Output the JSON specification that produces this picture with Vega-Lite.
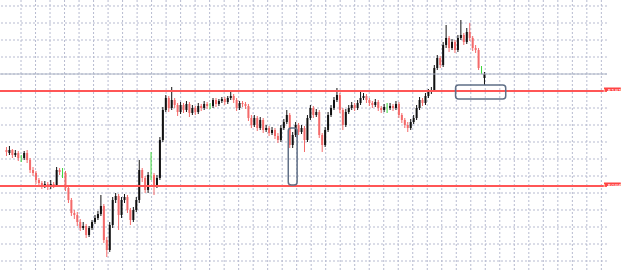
{
"$schema": "https://vega.github.io/schema/vega-lite/v6.json",
"autosize": {"type": "none"},
"width": 607,
"height": 272,
"padding": {"left": 0, "top": 0, "right": 18, "bottom": 0},
"background": "#ffffff",
"config": {"view": {"stroke": null}},
"datasets": {
"gridx": [{"t":4.93},{"t":9.85},{"t":14.76},{"t":19.68},{"t":24.6},{"t":29.52},{"t":34.43},{"t":39.35},{"t":44.27},{"t":49.18},{"t":54.1},{"t":59.02},{"t":63.93},{"t":68.85},{"t":73.77},{"t":78.69},{"t":83.6},{"t":88.52},{"t":93.44},{"t":98.35},{"t":103.27},{"t":108.19},{"t":113.1},{"t":118.02},{"t":122.94},{"t":127.86},{"t":132.77},{"t":137.69},{"t":142.61},{"t":147.52},{"t":152.44},{"t":157.36},{"t":162.27},{"t":167.19},{"t":172.11},{"t":177.03},{"t":181.94},{"t":186.86},{"t":191.78},{"t":196.69},{"t":201.61}],
"gridy": [{"p":1.5266},{"p":1.5249},{"p":1.5232},{"p":1.5215},{"p":1.5198},{"p":1.5181},{"p":1.5164},{"p":1.5147},{"p":1.5130},{"p":1.5113},{"p":1.5096},{"p":1.5079},{"p":1.5062},{"p":1.5045},{"p":1.5028},{"p":1.5011}]
},
"data": {"values": [
{"t":0,"o":1.5122,"h":1.5125,"l":1.5116,"c":1.5120},
{"t":1,"o":1.5119,"h":1.5126,"l":1.5117,"c":1.5122},
{"t":2,"o":1.5122,"h":1.5123,"l":1.5114,"c":1.5117},
{"t":3,"o":1.5117,"h":1.5122,"l":1.5115,"c":1.5119},
{"t":4,"o":1.5119,"h":1.5121,"l":1.5111,"c":1.5114},
{"t":5,"o":1.5114,"h":1.5117,"l":1.5110,"c":1.5114},
{"t":6,"o":1.5114,"h":1.5121,"l":1.5112,"c":1.5119},
{"t":7,"o":1.5119,"h":1.5122,"l":1.5109,"c":1.5112},
{"t":8,"o":1.5112,"h":1.5114,"l":1.5099,"c":1.5102},
{"t":9,"o":1.5102,"h":1.5105,"l":1.5096,"c":1.5099},
{"t":10,"o":1.5099,"h":1.5101,"l":1.5088,"c":1.5092},
{"t":11,"o":1.5092,"h":1.5094,"l":1.5085,"c":1.5089},
{"t":12,"o":1.5089,"h":1.5091,"l":1.5083,"c":1.5086},
{"t":13,"o":1.5086,"h":1.5091,"l":1.5084,"c":1.5088},
{"t":14,"o":1.5088,"h":1.5090,"l":1.5082,"c":1.5085},
{"t":15,"o":1.5085,"h":1.5092,"l":1.5083,"c":1.5088},
{"t":16,"o":1.5088,"h":1.5090,"l":1.5084,"c":1.5087},
{"t":17,"o":1.5087,"h":1.5105,"l":1.5085,"c":1.5102},
{"t":18,"o":1.5102,"h":1.5104,"l":1.5097,"c":1.5100},
{"t":19,"o":1.5099,"h":1.5104,"l":1.5094,"c":1.5099},
{"t":20,"o":1.5099,"h":1.5101,"l":1.5081,"c":1.5084},
{"t":21,"o":1.5084,"h":1.5086,"l":1.5069,"c":1.5072},
{"t":22,"o":1.5072,"h":1.5074,"l":1.5056,"c":1.5059},
{"t":23,"o":1.5059,"h":1.5062,"l":1.5053,"c":1.5057},
{"t":24,"o":1.5057,"h":1.5060,"l":1.5046,"c":1.5050},
{"t":25,"o":1.5050,"h":1.5053,"l":1.5041,"c":1.5044},
{"t":26,"o":1.5044,"h":1.5050,"l":1.5042,"c":1.5046},
{"t":27,"o":1.5046,"h":1.5048,"l":1.5034,"c":1.5037},
{"t":28,"o":1.5037,"h":1.5046,"l":1.5035,"c":1.5044},
{"t":29,"o":1.5044,"h":1.5052,"l":1.5042,"c":1.5050},
{"t":30,"o":1.5050,"h":1.5057,"l":1.5048,"c":1.5054},
{"t":31,"o":1.5054,"h":1.5061,"l":1.5052,"c":1.5058},
{"t":32,"o":1.5058,"h":1.5077,"l":1.5056,"c":1.5066},
{"t":33,"o":1.5066,"h":1.5068,"l":1.5029,"c":1.5032},
{"t":34,"o":1.5032,"h":1.5035,"l":1.5015,"c":1.5022},
{"t":35,"o":1.5022,"h":1.5050,"l":1.5020,"c":1.5047},
{"t":36,"o":1.5047,"h":1.5075,"l":1.5044,"c":1.5072},
{"t":37,"o":1.5072,"h":1.5079,"l":1.5069,"c":1.5076},
{"t":38,"o":1.5076,"h":1.5078,"l":1.5042,"c":1.5057},
{"t":39,"o":1.5057,"h":1.5075,"l":1.5054,"c":1.5072},
{"t":40,"o":1.5072,"h":1.5078,"l":1.5069,"c":1.5075},
{"t":41,"o":1.5075,"h":1.5077,"l":1.5059,"c":1.5062},
{"t":42,"o":1.5062,"h":1.5064,"l":1.5047,"c":1.5052},
{"t":43,"o":1.5052,"h":1.5065,"l":1.5050,"c":1.5062},
{"t":44,"o":1.5062,"h":1.5075,"l":1.5060,"c":1.5072},
{"t":45,"o":1.5072,"h":1.5112,"l":1.5069,"c":1.5102},
{"t":46,"o":1.5102,"h":1.5104,"l":1.5090,"c":1.5094},
{"t":47,"o":1.5094,"h":1.5096,"l":1.5079,"c":1.5082},
{"t":48,"o":1.5082,"h":1.5100,"l":1.5079,"c":1.5097},
{"t":49,"o":1.5097,"h":1.5120,"l":1.5092,"c":1.5097},
{"t":50,"o":1.5097,"h":1.5099,"l":1.5077,"c":1.5087},
{"t":51,"o":1.5087,"h":1.5097,"l":1.5084,"c":1.5094},
{"t":52,"o":1.5094,"h":1.5135,"l":1.5092,"c":1.5132},
{"t":53,"o":1.5132,"h":1.5165,"l":1.5130,"c":1.5162},
{"t":54,"o":1.5162,"h":1.5177,"l":1.5160,"c":1.5174},
{"t":55,"o":1.5174,"h":1.5176,"l":1.5160,"c":1.5164},
{"t":56,"o":1.5164,"h":1.5185,"l":1.5162,"c":1.5172},
{"t":57,"o":1.5172,"h":1.5174,"l":1.5164,"c":1.5167},
{"t":58,"o":1.5167,"h":1.5169,"l":1.5156,"c":1.5160},
{"t":59,"o":1.5160,"h":1.5170,"l":1.5158,"c":1.5167},
{"t":60,"o":1.5167,"h":1.5169,"l":1.5159,"c":1.5162},
{"t":61,"o":1.5162,"h":1.5171,"l":1.5160,"c":1.5168},
{"t":62,"o":1.5168,"h":1.5170,"l":1.5155,"c":1.5159},
{"t":63,"o":1.5159,"h":1.5167,"l":1.5157,"c":1.5164},
{"t":64,"o":1.5164,"h":1.5166,"l":1.5157,"c":1.5160},
{"t":65,"o":1.5160,"h":1.5169,"l":1.5158,"c":1.5166},
{"t":66,"o":1.5166,"h":1.5168,"l":1.5161,"c":1.5164},
{"t":67,"o":1.5164,"h":1.5171,"l":1.5162,"c":1.5168},
{"t":68,"o":1.5168,"h":1.5170,"l":1.5163,"c":1.5166},
{"t":69,"o":1.5166,"h":1.5169,"l":1.5163,"c":1.5166},
{"t":70,"o":1.5166,"h":1.5174,"l":1.5164,"c":1.5172},
{"t":71,"o":1.5172,"h":1.5174,"l":1.5165,"c":1.5168},
{"t":72,"o":1.5168,"h":1.5173,"l":1.5166,"c":1.5171},
{"t":73,"o":1.5171,"h":1.5175,"l":1.5169,"c":1.5173},
{"t":74,"o":1.5173,"h":1.5175,"l":1.5167,"c":1.5170},
{"t":75,"o":1.5170,"h":1.5176,"l":1.5168,"c":1.5174},
{"t":76,"o":1.5174,"h":1.5180,"l":1.5172,"c":1.5176},
{"t":77,"o":1.5176,"h":1.5178,"l":1.5169,"c":1.5172},
{"t":78,"o":1.5172,"h":1.5174,"l":1.5161,"c":1.5164},
{"t":79,"o":1.5164,"h":1.5171,"l":1.5162,"c":1.5169},
{"t":80,"o":1.5169,"h":1.5171,"l":1.5165,"c":1.5168},
{"t":81,"o":1.5168,"h":1.5170,"l":1.5163,"c":1.5166},
{"t":82,"o":1.5166,"h":1.5168,"l":1.5151,"c":1.5154},
{"t":83,"o":1.5154,"h":1.5157,"l":1.5144,"c":1.5147},
{"t":84,"o":1.5147,"h":1.5157,"l":1.5145,"c":1.5154},
{"t":85,"o":1.5154,"h":1.5156,"l":1.5141,"c":1.5144},
{"t":86,"o":1.5144,"h":1.5155,"l":1.5142,"c":1.5152},
{"t":87,"o":1.5152,"h":1.5154,"l":1.5139,"c":1.5142},
{"t":88,"o":1.5142,"h":1.5147,"l":1.5140,"c":1.5144},
{"t":89,"o":1.5144,"h":1.5146,"l":1.5136,"c":1.5139},
{"t":90,"o":1.5139,"h":1.5145,"l":1.5137,"c":1.5142},
{"t":91,"o":1.5142,"h":1.5144,"l":1.5133,"c":1.5136},
{"t":92,"o":1.5136,"h":1.5139,"l":1.5129,"c":1.5132},
{"t":93,"o":1.5132,"h":1.5147,"l":1.5130,"c":1.5144},
{"t":94,"o":1.5144,"h":1.5153,"l":1.5142,"c":1.5150},
{"t":95,"o":1.5150,"h":1.5162,"l":1.5148,"c":1.5157},
{"t":96,"o":1.5157,"h":1.5159,"l":1.5124,"c":1.5127},
{"t":97,"o":1.5127,"h":1.5140,"l":1.5124,"c":1.5137},
{"t":98,"o":1.5137,"h":1.5150,"l":1.5135,"c":1.5147},
{"t":99,"o":1.5147,"h":1.5149,"l":1.5137,"c":1.5140},
{"t":100,"o":1.5140,"h":1.5147,"l":1.5138,"c":1.5144},
{"t":101,"o":1.5144,"h":1.5146,"l":1.5120,"c":1.5132},
{"t":102,"o":1.5132,"h":1.5157,"l":1.5130,"c":1.5154},
{"t":103,"o":1.5154,"h":1.5167,"l":1.5152,"c":1.5164},
{"t":104,"o":1.5164,"h":1.5166,"l":1.5154,"c":1.5157},
{"t":105,"o":1.5157,"h":1.5163,"l":1.5155,"c":1.5160},
{"t":106,"o":1.5160,"h":1.5162,"l":1.5134,"c":1.5137},
{"t":107,"o":1.5137,"h":1.5139,"l":1.5120,"c":1.5127},
{"t":108,"o":1.5127,"h":1.5145,"l":1.5125,"c":1.5142},
{"t":109,"o":1.5142,"h":1.5160,"l":1.5140,"c":1.5157},
{"t":110,"o":1.5157,"h":1.5167,"l":1.5155,"c":1.5164},
{"t":111,"o":1.5164,"h":1.5175,"l":1.5162,"c":1.5172},
{"t":112,"o":1.5172,"h":1.5184,"l":1.5170,"c":1.5177},
{"t":113,"o":1.5177,"h":1.5179,"l":1.5159,"c":1.5162},
{"t":114,"o":1.5162,"h":1.5164,"l":1.5142,"c":1.5147},
{"t":115,"o":1.5147,"h":1.5163,"l":1.5145,"c":1.5160},
{"t":116,"o":1.5160,"h":1.5167,"l":1.5158,"c":1.5164},
{"t":117,"o":1.5164,"h":1.5170,"l":1.5162,"c":1.5167},
{"t":118,"o":1.5167,"h":1.5169,"l":1.5161,"c":1.5164},
{"t":119,"o":1.5164,"h":1.5172,"l":1.5162,"c":1.5169},
{"t":120,"o":1.5169,"h":1.5180,"l":1.5167,"c":1.5174},
{"t":121,"o":1.5174,"h":1.5179,"l":1.5172,"c":1.5176},
{"t":122,"o":1.5176,"h":1.5178,"l":1.5169,"c":1.5172},
{"t":123,"o":1.5172,"h":1.5174,"l":1.5166,"c":1.5169},
{"t":124,"o":1.5169,"h":1.5171,"l":1.5164,"c":1.5167},
{"t":125,"o":1.5167,"h":1.5173,"l":1.5165,"c":1.5170},
{"t":126,"o":1.5170,"h":1.5172,"l":1.5161,"c":1.5164},
{"t":127,"o":1.5164,"h":1.5166,"l":1.5159,"c":1.5162},
{"t":128,"o":1.5162,"h":1.5168,"l":1.5160,"c":1.5165},
{"t":129,"o":1.5164,"h":1.5169,"l":1.5159,"c":1.5164},
{"t":130,"o":1.5164,"h":1.5169,"l":1.5162,"c":1.5166},
{"t":131,"o":1.5166,"h":1.5168,"l":1.5161,"c":1.5164},
{"t":132,"o":1.5164,"h":1.5171,"l":1.5162,"c":1.5168},
{"t":133,"o":1.5168,"h":1.5170,"l":1.5154,"c":1.5157},
{"t":134,"o":1.5157,"h":1.5159,"l":1.5149,"c":1.5152},
{"t":135,"o":1.5152,"h":1.5154,"l":1.5144,"c":1.5147},
{"t":136,"o":1.5147,"h":1.5150,"l":1.5140,"c":1.5144},
{"t":137,"o":1.5144,"h":1.5153,"l":1.5142,"c":1.5150},
{"t":138,"o":1.5150,"h":1.5157,"l":1.5148,"c":1.5154},
{"t":139,"o":1.5154,"h":1.5167,"l":1.5152,"c":1.5164},
{"t":140,"o":1.5164,"h":1.5175,"l":1.5162,"c":1.5172},
{"t":141,"o":1.5172,"h":1.5174,"l":1.5166,"c":1.5169},
{"t":142,"o":1.5169,"h":1.5179,"l":1.5167,"c":1.5176},
{"t":143,"o":1.5176,"h":1.5183,"l":1.5174,"c":1.5180},
{"t":144,"o":1.5180,"h":1.5185,"l":1.5178,"c":1.5182},
{"t":145,"o":1.5182,"h":1.5207,"l":1.5180,"c":1.5204},
{"t":146,"o":1.5204,"h":1.5217,"l":1.5202,"c":1.5214},
{"t":147,"o":1.5214,"h":1.5216,"l":1.5204,"c":1.5207},
{"t":148,"o":1.5207,"h":1.5230,"l":1.5205,"c":1.5227},
{"t":149,"o":1.5227,"h":1.5247,"l":1.5224,"c":1.5234},
{"t":150,"o":1.5234,"h":1.5236,"l":1.5220,"c":1.5224},
{"t":151,"o":1.5224,"h":1.5233,"l":1.5222,"c":1.5230},
{"t":152,"o":1.5230,"h":1.5232,"l":1.5219,"c":1.5222},
{"t":153,"o":1.5222,"h":1.5237,"l":1.5220,"c":1.5234},
{"t":154,"o":1.5234,"h":1.5252,"l":1.5232,"c":1.5237},
{"t":155,"o":1.5237,"h":1.5239,"l":1.5227,"c":1.5230},
{"t":156,"o":1.5230,"h":1.5244,"l":1.5228,"c":1.5240},
{"t":157,"o":1.5240,"h":1.5249,"l":1.5231,"c":1.5234},
{"t":158,"o":1.5234,"h":1.5236,"l":1.5221,"c":1.5224},
{"t":159,"o":1.5224,"h":1.5227,"l":1.5219,"c":1.5222},
{"t":160,"o":1.5222,"h":1.5224,"l":1.5202,"c":1.5204},
{"t":161,"o":1.5202,"h":1.5206,"l":1.5198,"c":1.5202},
{"t":162,"o":1.5194,"h":1.5200,"l":1.5187,"c":1.5198}
]},
"layer": [
  {
    "data": {"name": "gridx"},
    "mark": {"type": "rule", "color": "#b7bbd0", "strokeWidth": 1, "strokeDash": [2, 2]},
    "encoding": {"x": {"field": "t", "type": "quantitative", "axis": null, "scale": {"domain": [-0.5, 201.83], "nice": false, "zero": false}}}
  },
  {
    "data": {"name": "gridy"},
    "mark": {"type": "rule", "color": "#b7bbd0", "strokeWidth": 1, "strokeDash": [2, 2]},
    "encoding": {"y": {"field": "p", "type": "quantitative", "axis": null, "scale": {"domain": [1.5000, 1.5272], "nice": false, "zero": false}}}
  },
  {
    "mark": {"type": "rule", "strokeWidth": 1},
    "encoding": {
      "x": {"field": "t", "type": "quantitative", "axis": null},
      "y": {"field": "l", "type": "quantitative", "axis": null},
      "y2": {"field": "h"},
      "color": {"condition": [{"test": "datum.c == datum.o", "value": "#3ad83a"}, {"test": "datum.c > datum.o", "value": "#111111"}], "value": "#f46a6a"}
    }
  },
  {
    "mark": {"type": "bar", "size": 2},
    "encoding": {
      "x": {"field": "t", "type": "quantitative", "axis": null},
      "y": {"field": "o", "type": "quantitative", "axis": null},
      "y2": {"field": "c"},
      "color": {"condition": [{"test": "datum.c == datum.o", "value": "#3ad83a"}, {"test": "datum.c > datum.o", "value": "#111111"}], "value": "#f46a6a"}
    }
  },
  {
    "data": {"values": [{"name": "bid", "p": 1.5198}]},
    "mark": {"type": "rule", "color": "#aab2c4", "strokeWidth": 1},
    "encoding": {"y": {"field": "p", "type": "quantitative", "axis": null}}
  },
  {
    "data": {"values": [{"name": "resistance", "p": 1.5181}, {"name": "support", "p": 1.5086}]},
    "mark": {"type": "rule", "color": "#ff5656", "strokeWidth": 2},
    "encoding": {"y": {"field": "p", "type": "quantitative", "axis": null}}
  },
  {
    "data": {"values": [{"t1": 95.5, "t2": 98.5, "p1": 1.5144, "p2": 1.5087}, {"t1": 152.2, "t2": 169.2, "p1": 1.5187, "p2": 1.5173}]},
    "mark": {"type": "rect", "fill": null, "fillOpacity": 0, "stroke": "#5f6f86", "strokeWidth": 1.5, "cornerRadius": 3},
    "encoding": {
      "x": {"field": "t1", "type": "quantitative", "axis": null}, "x2": {"field": "t2"},
      "y": {"field": "p1", "type": "quantitative", "axis": null}, "y2": {"field": "p2"}
    }
  },
  {
    "data": {"values": [{"label": "1.5181", "p": 1.5181, "ta": 202.5, "tb": 208.2, "tm": 205.3}, {"label": "1.5086", "p": 1.5086, "ta": 202.5, "tb": 208.2, "tm": 205.3}]},
    "mark": {"type": "rect", "color": "#ff4444"},
    "encoding": {
      "x": {"field": "ta", "type": "quantitative", "axis": null}, "x2": {"field": "tb"},
      "y": {"field": "p", "type": "quantitative", "axis": null}, "yOffset": {"value": -3.5},
      "y2": {"field": "p"}, "y2Offset": {"value": 3.5}
    }
  },
  {
    "data": {"values": [{"label": "1.5181", "p": 1.5181, "tm": 205.3}, {"label": "1.5086", "p": 1.5086, "tm": 205.3}]},
    "mark": {"type": "text", "color": "#ffffff", "fontSize": 5.5, "font": "DejaVu Sans", "baseline": "middle", "align": "center"},
    "encoding": {
      "x": {"field": "tm", "type": "quantitative", "axis": null},
      "y": {"field": "p", "type": "quantitative", "axis": null},
      "text": {"field": "label"}
    }
  }
]
}
